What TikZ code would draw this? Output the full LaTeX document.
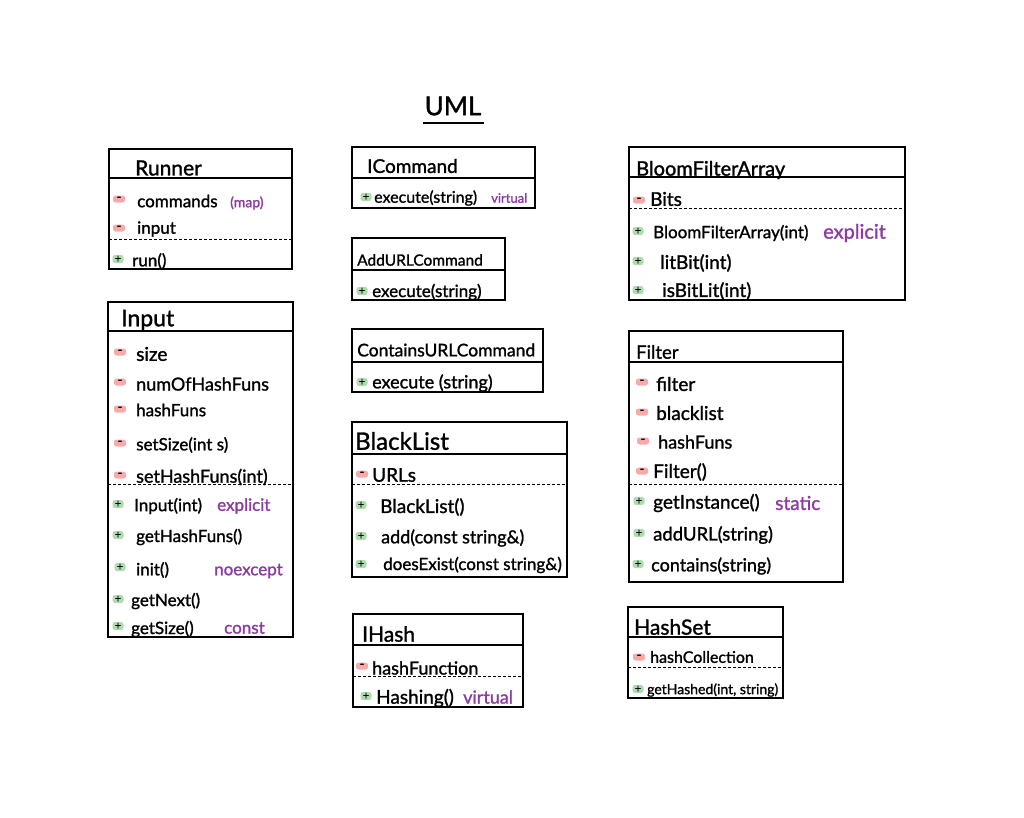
\documentclass[tikz,border=0pt]{standalone}
\usepackage{fontspec}
\setmainfont{Lato}[BoldFont=Lato, BoldFeatures={FakeBold=1.3}]
\definecolor{kw}{RGB}{140,60,160}
\definecolor{pinkhl}{RGB}{246,170,170}
\definecolor{greenhl}{RGB}{175,220,175}
\newcommand\fs[1]{\fontsize{#1}{#1}\selectfont\bfseries}
\tikzset{
  classbox/.style={draw, line width=1.3pt},
  divline/.style={line width=1.3pt},
  dashline/.style={line width=1pt, dash pattern=on 3pt off 2pt},
  ttl/.style={anchor=west, inner sep=0pt, font=\fs{21}},
  itm/.style={anchor=west, inner sep=0pt, font=\fs{17}},
  kwd/.style={anchor=west, inner sep=0pt, text=kw, font=\fs{17}},
  privm/.style={fill=pinkhl, rounded corners=2.5pt, minimum width=12pt, minimum height=7pt, inner sep=0pt, font=\fs{13}},
  pubm/.style={fill=greenhl, rounded corners=2.5pt, minimum width=11pt, minimum height=8pt, inner sep=0pt, font=\fs{11}},
}
\begin{document}
\begin{tikzpicture}[x=1pt,y=-1pt]
\useasboundingbox[fill=white] (0,0) rectangle (1024,817);

% title
\node[inner sep=0pt, font=\fs{26}] (uml) at (453,106) {UML};
\draw[line width=1.6pt] (423,123) coordinate (ul1) -- (484,123) coordinate (ul2);

% Runner
\draw[classbox] (109,149) rectangle (292,269);
\draw[divline] (109,178) -- (292,178);
\draw[dashline] (109,239) -- (292,239);
\node[ttl] (rt) at (135,168) {Runner};
\node[privm] (rm1) at (119,199) {-};
\node[itm] (r1) at (137,201) {commands};
\node[kwd, font=\fs{14}] (r1k) at (230,203) {(map)};
\node[privm] (rm2) at (119,228) {-};
\node[itm] (r2) at (137,229) {input};
\node[pubm] (rm3) at (118,259) {+};
\node[itm] (r3) at (132,261) {run()};

% Input
\draw[classbox] (108,302) rectangle (293,637);
\draw[divline] (108,331) -- (293,331);
\draw[dashline] (108,484) -- (293,484);
\node[ttl, font=\fs{23}] (it) at (121,320) {Input};
\node[privm] (im1) at (120,352) {-};
\node[itm, font=\fs{19}] (i1) at (136,354) {size};
\node[privm] (im2) at (120,382) {-};
\node[itm, font=\fs{18}] (i2) at (136,384) {numOfHashFuns};
\node[privm] (im3) at (120,409) {-};
\node[itm] (i3) at (136,410) {hashFuns};
\node[privm] (im4) at (120,443) {-};
\node[itm] (i4) at (136,445) {setSize(int s)};
\node[privm] (im5) at (120,475) {-};
\node[itm, font=\fs{18}] (i5) at (136,477) {setHashFuns(int)};
\node[pubm] (im6) at (118,504) {+};
\node[itm] (i6) at (134,506) {Input(int)};
\node[kwd] (i6k) at (217,506) {explicit};
\node[pubm] (im7) at (118,535) {+};
\node[itm] (i7) at (136,537) {getHashFuns()};
\node[pubm] (im8) at (120,567) {+};
\node[itm] (i8) at (136,570) {init()};
\node[kwd] (i8k) at (214,571) {noexcept};
\node[pubm] (im9) at (118,599) {+};
\node[itm] (i9) at (131,601) {getNext()};
\node[pubm] (im10) at (118,626) {+};
\node[itm] (i10) at (131,629) {getSize()};
\node[kwd] (i10k) at (224,628) {const};

% ICommand
\draw[classbox] (352,147) rectangle (535,208);
\draw[divline] (352,178) -- (535,178);
\node[ttl, font=\fs{19}] (ct) at (367,166) {ICommand};
\node[pubm] (cm1) at (366,197) {+};
\node[itm, font=\fs{16}] (c1) at (374,198) {execute(string)};
\node[kwd, font=\fs{13}] (c1k) at (491,198) {virtual};

% AddURLCommand
\draw[classbox] (352,238) rectangle (505,300);
\draw[divline] (352,270) -- (505,270);
\node[ttl, font=\fs{15.5}] (at) at (357,260) {AddURLCommand};
\node[pubm] (am1) at (362,291) {+};
\node[itm] (a1) at (372,292) {execute(string)};

% ContainsURLCommand
\draw[classbox] (352,329) rectangle (543,392);
\draw[divline] (352,362) -- (543,362);
\node[ttl, font=\fs{17.5}] (nt) at (357,350) {ContainsURLCommand};
\node[pubm] (nm1) at (362,382) {+};
\node[itm, font=\fs{18}] (n1) at (372,383) {execute (string)};

% BlackList
\draw[classbox] (352,422) rectangle (567,577);
\draw[divline] (352,454) -- (567,454);
\draw[dashline] (352,484) -- (567,484);
\node[ttl, font=\fs{24}] (bt) at (355,441) {BlackList};
\node[privm] (bm1) at (362,474) {-};
\node[itm, font=\fs{19}] (b1) at (372,475) {URLs};
\node[pubm] (bm2) at (361,505) {+};
\node[itm, font=\fs{19}] (b2) at (380,507) {BlackList()};
\node[pubm] (bm3) at (361,536) {+};
\node[itm, font=\fs{18}] (b3) at (381,538) {add(const string\&)};
\node[pubm] (bm4) at (361,564) {+};
\node[itm] (b4) at (383,565) {doesExist(const string\&)};

% IHash
\draw[classbox] (353,614) rectangle (523,707);
\draw[divline] (353,645) -- (523,645);
\draw[dashline] (353,676) -- (523,676);
\node[ttl] (ht) at (362,634) {IHash};
\node[privm] (hm1) at (362,666) {-};
\node[itm, font=\fs{18}] (h1) at (372,668) {hashFunction};
\node[pubm] (hm2) at (366,696) {+};
\node[itm, font=\fs{19}] (h2) at (376,698) {Hashing()};
\node[kwd, font=\fs{18}] (h2k) at (463,697) {virtual};

% BloomFilterArray
\draw[classbox] (629,147) rectangle (905,300);
\draw[divline] (629,177) -- (905,177);
\draw[dashline] (629,208) -- (905,208);
\node[ttl, font=\fs{20}] (ft) at (636,170) {BloomFilterArray};
\node[privm] (fm1) at (639,200) {-};
\node[itm, font=\fs{19}] (f1) at (650,199) {Bits};
\node[pubm] (fm2) at (638,231) {+};
\node[itm] (f2) at (653,233) {BloomFilterArray(int)};
\node[kwd, font=\fs{20}] (f2k) at (823,233) {explicit};
\node[pubm] (fm3) at (638,261) {+};
\node[itm, font=\fs{19}] (f3) at (660,263) {litBit(int)};
\node[pubm] (fm4) at (638,290) {+};
\node[itm, font=\fs{19}] (f4) at (662,291) {isBitLit(int)};

% Filter
\draw[classbox] (629,331) rectangle (843,582);
\draw[divline] (629,362) -- (843,362);
\draw[dashline] (629,484) -- (843,484);
\node[ttl, font=\fs{18.5}] (lt) at (636,352) {Filter};
\node[privm] (lm1) at (642,382) {-};
\node[itm, font=\fs{19}] (l1) at (656,384) {filter};
\node[privm] (lm2) at (642,412) {-};
\node[itm, font=\fs{19}] (l2) at (656,413) {blacklist};
\node[privm] (lm3) at (643,441) {-};
\node[itm, font=\fs{18}] (l3) at (658,442) {hashFuns};
\node[privm] (lm4) at (642,471) {-};
\node[itm, font=\fs{19}] (l4) at (653,472) {Filter()};
\node[pubm] (lm5) at (639,501) {+};
\node[itm, font=\fs{19}] (l5) at (653,503) {getInstance()};
\node[kwd, font=\fs{19}] (l5k) at (775,503) {static};
\node[pubm] (lm6) at (639,533) {+};
\node[itm, font=\fs{18.5}] (l6) at (653,535) {addURL(string)};
\node[pubm] (lm7) at (638,564) {+};
\node[itm, font=\fs{18}] (l7) at (651,566) {contains(string)};

% HashSet
\draw[classbox] (628,607) rectangle (783,698);
\draw[divline] (628,637) -- (783,637);
\draw[dashline] (628,667) -- (783,667);
\node[ttl] (st) at (634,627) {HashSet};
\node[privm] (sm1) at (639,657) {-};
\node[itm, font=\fs{16}] (s1) at (650,657) {hashCollection};
\node[pubm] (sm2) at (638,689) {+};
\node[itm, font=\fs{14}] (s2) at (647,690) {getHashed(int, string)};
\end{tikzpicture}
\end{document}
